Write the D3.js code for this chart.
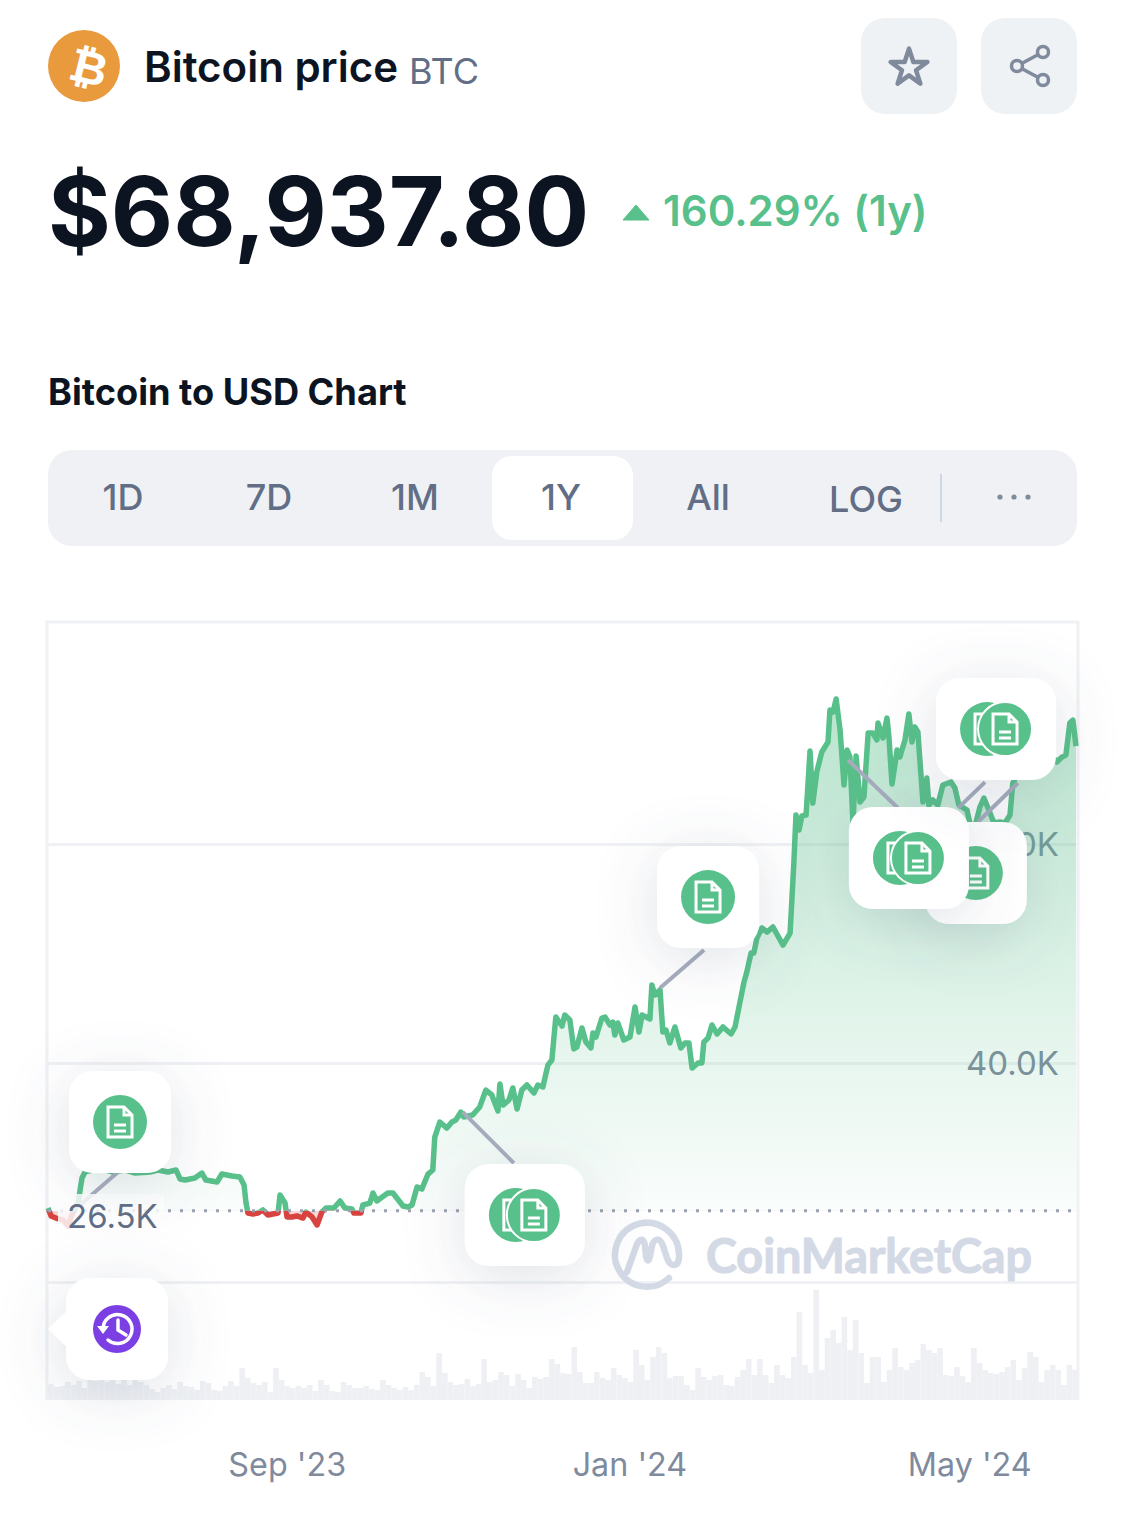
<!DOCTYPE html>
<html>
<head>
<meta charset="utf-8">
<style>
  html, body { margin: 0; padding: 0; background: #fff; }
  svg { display: block; }
  text { font-family: Inter, "Noto Sans", sans-serif; }
</style>
<script src="https://cdn.jsdelivr.net/npm/d3@7"></script>
</head>
<body>
<div id="container"></div>
<script>
//### DATA ###
//>>> Price line: days since 8 Jun 2023 and price in thousands of USD
const priceDays = [
  0, 1.1, 2.8, 5.3, 7.1, 8.5, 10.7, 12.1, 13.2, 15.7, 18.5, 22.8, 27.4, 31, 36.3, 39.2, 42.7, 45.6, 47, 48.8,
  52.3, 54.8, 56.2, 60.2, 61.9, 65.5, 68.3, 69.8, 70.5, 71.2, 73, 74.8, 76.5, 78.3, 81.9, 82.6, 84.4, 85.1, 86.9, 88.6,
  90.8, 91.8, 94, 95.8, 97.5, 99, 101.8, 104, 105.7, 108.2, 108.9, 111.4, 112.1, 114.6, 115.7, 117.1, 118.5, 121, 122.8, 126.4,
  128.2, 129.6, 131.4, 133.1, 135.3, 137, 137.7, 139.5, 142, 143.8, 145.2, 147, 148, 151.2, 153.7, 155.9, 158, 160.2, 160.9, 162,
  164.1, 165.5, 167, 168.7, 170.5, 173, 174.4, 176.2, 178, 179.4, 180.8, 183, 184, 185.8, 187.2, 188.3, 190.1, 191.5, 193.3, 194,
  195.1, 197.2, 198.3, 200.1, 201.1, 201.8, 202.9, 205, 207.2, 209, 210.4, 211.5, 214.3, 215, 216.1, 217.9, 218.9, 220, 221.4, 223.2,
  225.3, 226.8, 228.2, 229.3, 231.4, 232.8, 233.5, 235, 236.4, 238.2, 240.3, 243.2, 244.6, 246.3, 247.8, 248.8, 250.3, 251.3, 252.4, 254.2,
  256, 258.1, 261.7, 264.2, 265.6, 266.3, 267.4, 268.4, 269.9, 271.3, 272.3, 273.7, 275.5, 277.7, 278.4, 279.5, 280.6, 282, 283.4, 284.5,
  285.5, 286.6, 287.7, 289.1, 290.5, 292, 293.7, 295.1, 295.5, 297.3, 298.7, 299.4, 300.5, 302.3, 303.3, 305.1, 306.5, 307.6, 308.6, 309.7,
  311.5, 312.9, 313.6, 315, 316.8, 318.6, 321.5, 322.9, 324.3, 327.2, 328.2, 330, 331.8, 333.2, 335.4, 336.8, 338.9, 340.7, 342.5, 343.5,
  346, 350.3, 354.9, 359.2, 361, 362.4, 363.8, 364.9, 366
];
const priceValues = [
  26.76, 26.03, 25.84, 25.66, 25.11, 26.12, 27.21, 29.5, 30.05, 30.23, 30.41, 30.05, 30.23, 29.95, 30.05, 30.23, 30.05, 30.23, 29.41, 29.31,
  29.5, 29.95, 29.31, 29.13, 29.86, 29.68, 29.59, 28.86, 27.21, 26.3, 26.21, 26.3, 26.58, 26.12, 26.3, 27.94, 27.21, 25.94, 25.94, 26.03,
  25.84, 26.39, 25.94, 25.21, 26.39, 26.76, 26.76, 27.4, 26.76, 26.67, 26.3, 26.3, 27.03, 27.21, 28.13, 27.4, 27.67, 28.13, 28.13, 26.94,
  26.85, 27.03, 28.68, 28.49, 29.86, 30.23, 33.24, 34.61, 34.06, 34.61, 34.79, 35.52, 35.07, 35.25, 35.98, 37.53, 37.08, 35.62, 38.08, 36.16,
  36.62, 37.72, 35.8, 37.53, 37.99, 37.26, 37.99, 37.81, 39.82, 40.27, 44.2, 43.38, 44.38, 43.93, 41.28, 41.46, 43.2, 41.92, 41.37, 42.74,
  42.37, 44.11, 44.2, 43.47, 43.74, 42.56, 43.65, 42.1, 42.37, 45.11, 42.83, 44.38, 44.02, 47.12, 46.21, 46.67, 42.83, 43.01, 41.83, 43.29,
  41.37, 41.83, 41.83, 39.54, 40, 40, 41.92, 42.28, 43.47, 42.65, 43.29, 42.65, 43.29, 45.48, 47.4, 48.31, 50.04, 50.04, 51.41, 52.33,
  51.96, 52.42, 50.77, 51.87, 58.54, 62.65, 61.28, 62.56, 62.65, 68.49, 63.74, 66.57, 68.4, 69.31, 72.24, 72.05, 73.24, 70.41, 65.39, 68.58,
  67.94, 61.92, 68.03, 63.83, 64.29, 70.13, 70.13, 69.5, 71.05, 69.68, 71.5, 69.77, 65.48, 68.58, 67.94, 69.5, 71.87, 69.31, 70.68, 70.23,
  63.83, 66.02, 63.56, 64.02, 63.56, 65.39, 65.66, 65.11, 63.56, 63.1, 61.92, 61.55, 63.38, 64.2, 62.83, 61.92, 62.01, 61.92, 62.65, 65.57,
  66.76, 68.58, 68.76, 67.49, 67.94, 68.13, 71.05, 71.32, 68.94
];
//>>> Volume bars (two day buckets), billions of USD
const volumeValues = [
  16, 13, 14, 18, 15, 19, 12, 20, 19, 21, 18, 21, 16, 21, 15, 21, 18, 15, 11, 8,
  12, 15, 11, 18, 14, 13, 10, 19, 17, 10, 9, 14, 19, 14, 32, 22, 17, 15, 18, 8,
  32, 20, 14, 12, 14, 12, 15, 9, 20, 15, 9, 8, 18, 15, 12, 12, 14, 11, 10, 20,
  15, 12, 10, 13, 10, 15, 28, 23, 14, 47, 27, 18, 15, 16, 21, 14, 16, 41, 18, 20,
  28, 25, 14, 26, 20, 12, 23, 21, 23, 41, 36,
  27, 26, 53, 28, 17, 17, 28, 22, 20, 32, 25, 22, 18, 50, 35, 20, 43, 53, 47, 22,
  24, 24, 15, 10, 32, 23, 20, 24, 25, 15, 14, 23, 30, 41, 25, 41, 25, 17, 35, 25,
  22, 43, 88, 35, 27, 110, 30, 62, 70, 57, 83, 50, 80, 47, 17, 43, 43, 18, 30, 52,
  33, 30, 37, 40, 56, 50, 47, 52, 25, 24, 33, 24, 18, 52, 37, 30, 27, 26, 28, 33,
  40, 20, 32, 48, 43, 18, 30, 35, 30, 15, 35, 30
];
//>>> News markers on the line: day and price in thousands of USD
const markerDays = [ 11.4, 147.7, 217.9, 284.8, 324, 345.3 ];
const markerPrices = [ 27.03, 35.52, 46.84, 67.67, 63.28, 65.57 ];

//>>> Axis values and labels
const gridPrices = [ 20, 40, 60 ];
const hiddenGridLabels = [ 20 ];
const xTickDates = [ Date.UTC( 2023, 8, 1 ), Date.UTC( 2024, 0, 1 ), Date.UTC( 2024, 4, 1 ) ];
const baselinePrice = 26.5;
const tabLabels = [ '1D', '7D', '1M', '1Y', 'All', 'LOG' ];


//### LAYOUT AND STYLE ###
const width = 1125;
const height = 1516;
const dayMs = 86400000;
const startTime = Date.UTC( 2023, 5, 8 );

const green = '#58c08a';
const red = '#d9433f';
const ink = '#0d1421';
const slate = '#616e85';
const grey = '#808a9d';
const panel = '#eff2f5';
const gridColor = '#f0f1f4';

//>>> Card placement around each marker: card centre offset, connector end offset, one or two coins
const cardLayout = [
  { dx: 40, dy: -83, lx: 38, ly: -33, double: false },
  { dx: 62, dy: 103, lx: 51, ly: 51, double: true },
  { dx: 48, dy: -91, lx: 44, ly: -38, double: false },
  { dx: 61, dy: 98, lx: 50, ly: 48, double: true },
  { dx: 38, dy: -79, lx: 27, ly: -26, double: true },
  { dx: -42, dy: 90, lx: -40, ly: 39, double: false }
];
const cardOrder = [ 0, 1, 2, 5, 3, 4 ];


//_____ SVG _____
const svg = d3.select( '#container' )
  .append( 'svg' )
  .attr( 'width', width )
  .attr( 'height', height );

const defs = svg.append( 'defs' );

//>>> Soft card shadow
const shadow = defs.append( 'filter' )
  .attr( 'id', 'cardShadow' )
  .attr( 'x', '-100%' ).attr( 'y', '-100%' )
  .attr( 'width', '300%' ).attr( 'height', '300%' );
shadow.append( 'feDropShadow' )
  .attr( 'dx', 0 ).attr( 'dy', 10 )
  .attr( 'stdDeviation', 30 )
  .attr( 'flood-color', '#58667e' )
  .attr( 'flood-opacity', 0.2 );

//>>> Area fill gradient
const areaGradient = defs.append( 'linearGradient' )
  .attr( 'id', 'areaGreen' )
  .attr( 'gradientUnits', 'userSpaceOnUse' )
  .attr( 'x1', 0 ).attr( 'x2', 0 )
  .attr( 'y1', 700 ).attr( 'y2', 1210 );
areaGradient.append( 'stop' ).attr( 'offset', 0 ).attr( 'stop-color', green ).attr( 'stop-opacity', 0.42 );
areaGradient.append( 'stop' ).attr( 'offset', 1 ).attr( 'stop-color', green ).attr( 'stop-opacity', 0.03 );


//_____ SCALES _____
const x = d3.scaleUtc()
  .domain( [ startTime, startTime + 366 * dayMs ] )
  .range( [ 48, 1076 ] );

const y = d3.scaleLinear()
  .domain( [ 20, 80 ] )
  .range( [ 1282, 625 ] );

const volumeX = d3.scaleBand()
  .domain( d3.range( volumeValues.length ) )
  .range( [ 48, 1078 ] );

const volumeY = d3.scaleLinear()
  .domain( [ 0, 110 ] )
  .range( [ 1400, 1290 ] );

const dayToX = day => x( startTime + day * dayMs );
const baselineY = y( baselinePrice );
const pricePoints = priceDays.map( ( d, i ) => [ d, priceValues[ i ] ] );


//_____ HEADER _____
const header = svg.append( 'g' );

header.append( 'circle' )
  .attr( 'cx', 84 ).attr( 'cy', 66 ).attr( 'r', 36 )
  .attr( 'fill', '#e99a3c' );

header.append( 'text' )
  .attr( 'transform', 'translate(85,83) rotate(14)' )
  .attr( 'text-anchor', 'middle' )
  .style( 'font-family', '"DejaVu Sans", sans-serif' )
  .style( 'font-size', '46px' )
  .style( 'font-weight', 700 )
  .attr( 'fill', '#fff' )
  .text( '₿' );

header.append( 'text' )
  .attr( 'x', 144 ).attr( 'y', 82 )
  .style( 'font-size', '42px' )
  .style( 'font-weight', 600 )
  .attr( 'fill', ink )
  .text( 'Bitcoin price' );

header.append( 'text' )
  .attr( 'x', 409 ).attr( 'y', 84 )
  .style( 'font-size', '36px' )
  .attr( 'fill', slate )
  .text( 'BTC' );

//>>> Star and share buttons
[ 861, 981 ].forEach( left => {
  header.append( 'rect' )
    .attr( 'x', left ).attr( 'y', 18 )
    .attr( 'width', 96 ).attr( 'height', 96 )
    .attr( 'rx', 24 )
    .attr( 'fill', panel );
} );

header.append( 'path' )
  .attr( 'transform', 'translate(909,68)' )
  .attr( 'd', d3.symbol( d3.symbolStar ).size( 420 ) )
  .attr( 'fill', 'none' )
  .attr( 'stroke', grey )
  .attr( 'stroke-width', 4.5 )
  .attr( 'stroke-linejoin', 'round' );

header.append( 'path' )
  .attr( 'd', 'M1043 52 L1017 66 L1043 80' )
  .attr( 'fill', 'none' )
  .attr( 'stroke', grey )
  .attr( 'stroke-width', 3.5 );
[ [ 1043, 52 ], [ 1017, 66 ], [ 1043, 80 ] ].forEach( c => {
  header.append( 'circle' )
    .attr( 'cx', c[ 0 ] ).attr( 'cy', c[ 1 ] ).attr( 'r', 5.5 )
    .attr( 'fill', panel )
    .attr( 'stroke', grey )
    .attr( 'stroke-width', 3.5 );
} );

//>>> Price and change
header.append( 'text' )
  .attr( 'x', 48 ).attr( 'y', 246 )
  .style( 'font-size', '96px' )
  .style( 'font-weight', 700 )
  .attr( 'fill', ink )
  .text( '$68,937.80' );

header.append( 'path' )
  .attr( 'd', 'M636 205 L649 220 L623 220 Z' )
  .attr( 'fill', green )
  .attr( 'stroke', green )
  .attr( 'stroke-linejoin', 'round' );

header.append( 'text' )
  .attr( 'x', 663 ).attr( 'y', 226 )
  .style( 'font-size', '42px' )
  .style( 'font-weight', 600 )
  .attr( 'fill', green )
  .text( '160.29% (1y)' );

header.append( 'text' )
  .attr( 'x', 48 ).attr( 'y', 405 )
  .style( 'font-size', '36.2px' )
  .style( 'font-weight', 700 )
  .attr( 'fill', ink )
  .text( 'Bitcoin to USD Chart' );


//_____ TABS _____
const tabs = svg.append( 'g' );
const tabCentres = [ 123, 269, 415, 561, 708, 866 ];

tabs.append( 'rect' )
  .attr( 'x', 48 ).attr( 'y', 450 )
  .attr( 'width', 1029 ).attr( 'height', 96 )
  .attr( 'rx', 24 )
  .attr( 'fill', '#eff1f5' );

tabs.append( 'rect' )
  .attr( 'x', 492 ).attr( 'y', 456 )
  .attr( 'width', 141 ).attr( 'height', 84 )
  .attr( 'rx', 20 )
  .attr( 'fill', '#fff' );

tabs.selectAll( 'text' )
  .data( tabLabels )
  .enter()
  .append( 'text' )
  .attr( 'x', ( d, i ) => tabCentres[ i ] )
  .attr( 'y', d => d === 'LOG' ? 512 : 510 )
  .attr( 'text-anchor', 'middle' )
  .style( 'font-size', '36px' )
  .style( 'font-weight', 500 )
  .attr( 'fill', slate )
  .text( d => d );

tabs.append( 'line' )
  .attr( 'x1', 941 ).attr( 'x2', 941 )
  .attr( 'y1', 474 ).attr( 'y2', 522 )
  .attr( 'stroke', '#cfd6e4' )
  .attr( 'stroke-width', 2 );

[ 1000, 1014, 1028 ].forEach( cx => {
  tabs.append( 'circle' )
    .attr( 'cx', cx ).attr( 'cy', 497 ).attr( 'r', 2.6 )
    .attr( 'fill', grey );
} );


//_____ CHART FRAME AND GRID _____
const chart = svg.append( 'g' );

chart.append( 'path' )
  .attr( 'd', 'M47 1400 L47 622 L1078 622 L1078 1400' )
  .attr( 'fill', 'none' )
  .attr( 'stroke', gridColor )
  .attr( 'stroke-width', 3 );

//>>> Y axis: gridlines are the ticks
const yAxisGroup = chart.append( 'g' )
  .attr( 'transform', 'translate(1078,0)' )
  .call( d3.axisLeft( y )
    .tickValues( gridPrices )
    .tickSize( 1030 )
    .tickFormat( d => hiddenGridLabels.includes( d ) ? '' : d3.format( '.1f' )( d ) + 'K' ) );

yAxisGroup.select( '.domain' ).remove();
yAxisGroup.selectAll( 'line' )
  .attr( 'stroke', gridColor )
  .attr( 'stroke-width', 3 );
yAxisGroup.selectAll( 'text' )
  .attr( 'x', -19 )
  .attr( 'dy', '0.34em' )
  .attr( 'text-anchor', 'end' )
  .style( 'font-size', '33px' )
  .style( 'font-family', 'Inter, sans-serif' )
  .attr( 'fill', grey );

//>>> X axis: labels only
const xAxisGroup = chart.append( 'g' )
  .attr( 'transform', 'translate(0,1400)' )
  .call( d3.axisBottom( x )
    .tickValues( xTickDates )
    .tickSize( 0 )
    .tickPadding( 53 )
    .tickFormat( d3.utcFormat( "%b '%y" ) ) );

xAxisGroup.select( '.domain' ).remove();
xAxisGroup.selectAll( 'text' )
  .style( 'font-size', '32.3px' )
  .style( 'font-family', 'Inter, sans-serif' )
  .attr( 'fill', grey );


//_____ VOLUME _____
chart.append( 'g' )
  .selectAll( 'rect' )
  .data( volumeValues )
  .enter()
  .append( 'rect' )
  .attr( 'x', ( d, i ) => volumeX( i ) )
  .attr( 'y', d => volumeY( d ) )
  .attr( 'width', volumeX.bandwidth() )
  .attr( 'height', d => volumeY( 0 ) - volumeY( d ) )
  .attr( 'fill', '#eef0f4' );


//_____ WATERMARK _____
const mark = chart.append( 'g' )
  .attr( 'fill', 'none' )
  .attr( 'stroke', '#d4dae5' )
  .attr( 'stroke-width', 6.5 )
  .attr( 'stroke-linecap', 'round' )
  .attr( 'stroke-linejoin', 'round' );

mark.append( 'path' )
  .attr( 'd', 'M669 1278 A32 32 0 1 1 679 1254 C680 1268 670 1268 667 1258 L663 1246 C660 1237 654 1238 652 1246 L650 1256 C649 1262 647 1262 646 1256 L645 1246 C644 1238 640 1238 637 1244 L627 1272' );

chart.append( 'text' )
  .attr( 'x', 706 ).attr( 'y', 1273 )
  .attr( 'textLength', 326 )
  .attr( 'lengthAdjust', 'spacingAndGlyphs' )
  .style( 'font-family', 'Lato, sans-serif' )
  .style( 'font-size', '47px' )
  .style( 'font-weight', 700 )
  .attr( 'fill', '#d4dae5' )
  .attr( 'stroke', '#d4dae5' )
  .attr( 'stroke-width', 1.2 )
  .attr( 'stroke-linejoin', 'round' )
  .text( 'CoinMarketCap' );


//_____ PRICE AREA AND LINE _____
const areaShape = d3.area()
  .x( d => dayToX( d[ 0 ] ) )
  .y0( baselineY )
  .y1( d => y( d[ 1 ] ) );

const lineShape = d3.line()
  .x( d => dayToX( d[ 0 ] ) )
  .y( d => y( d[ 1 ] ) );

//>>> Clip above and below the baseline price so the line changes colour there
defs.append( 'clipPath' ).attr( 'id', 'aboveBase' )
  .append( 'rect' )
  .attr( 'x', 0 ).attr( 'y', 0 )
  .attr( 'width', width ).attr( 'height', baselineY );
defs.append( 'clipPath' ).attr( 'id', 'belowBase' )
  .append( 'rect' )
  .attr( 'x', 0 ).attr( 'y', baselineY )
  .attr( 'width', width ).attr( 'height', height - baselineY );

chart.append( 'path' )
  .attr( 'd', areaShape( pricePoints ) )
  .attr( 'clip-path', 'url(#aboveBase)' )
  .attr( 'fill', 'url(#areaGreen)' );

chart.append( 'path' )
  .attr( 'd', areaShape( pricePoints ) )
  .attr( 'clip-path', 'url(#belowBase)' )
  .attr( 'fill', red )
  .attr( 'fill-opacity', 0.22 );

[ [ green, 'aboveBase' ], [ red, 'belowBase' ] ].forEach( part => {
  chart.append( 'path' )
    .attr( 'd', lineShape( pricePoints ) )
    .attr( 'clip-path', `url(#${part[ 1 ]})` )
    .attr( 'fill', 'none' )
    .attr( 'stroke', part[ 0 ] )
    .attr( 'stroke-width', 5.5 )
    .attr( 'stroke-linejoin', 'round' );
} );

//>>> Dotted baseline
chart.append( 'line' )
  .attr( 'x1', 48 ).attr( 'x2', 1076 )
  .attr( 'y1', baselineY ).attr( 'y2', baselineY )
  .attr( 'stroke', '#9aa2b1' )
  .attr( 'stroke-width', 3 )
  .attr( 'stroke-dasharray', '3 9' );


//_____ NEWS CARDS _____
const markers = markerDays.map( ( d, i ) => ( {
  mx: dayToX( d ),
  my: y( markerPrices[ i ] ),
  ...cardLayout[ i ]
} ) );

chart.append( 'g' )
  .selectAll( 'line' )
  .data( markers )
  .enter()
  .append( 'line' )
  .attr( 'x1', d => d.mx )
  .attr( 'y1', d => d.my )
  .attr( 'x2', d => d.mx + d.lx )
  .attr( 'y2', d => d.my + d.ly )
  .attr( 'stroke', '#a6acbe' )
  .attr( 'stroke-width', 4 );

//>>> Pale backing of the baseline label
chart.append( 'rect' )
  .attr( 'x', 58 ).attr( 'y', 1194 )
  .attr( 'width', 106 ).attr( 'height', 42 )
  .attr( 'fill', '#fff' )
  .attr( 'fill-opacity', 0.84 );

chart.append( 'text' )
  .attr( 'x', 67 ).attr( 'y', 1228 )
  .style( 'font-size', '33px' )
  .attr( 'fill', slate )
  .text( baselinePrice.toFixed( 1 ) + 'K' );

function drawCoin ( g, cx, cy, ring ) {
  g.append( 'circle' )
    .attr( 'cx', cx ).attr( 'cy', cy ).attr( 'r', 27 )
    .attr( 'fill', green )
    .attr( 'stroke', ring ? '#fff' : 'none' )
    .attr( 'stroke-width', 2 );
  const doc = g.append( 'g' )
    .attr( 'transform', `translate(${cx},${cy})` )
    .attr( 'fill', 'none' )
    .attr( 'stroke', '#fff' )
    .attr( 'stroke-width', 3 );
  doc.append( 'path' ).attr( 'd', 'M-12 -15 L4 -15 L12 -7 L12 15 L-12 15 Z M4 -15 L4 -7 L12 -7' );
  doc.append( 'path' ).attr( 'd', 'M-6 3 L6 3 M-6 9 L6 9' );
}

cardOrder.forEach( i => {
  const d = markers[ i ];
  const cx = d.mx + d.dx;
  const cy = d.my + d.dy;
  const cardWidth = d.double ? 120 : 102;
  const g = chart.append( 'g' );
  g.append( 'rect' )
    .attr( 'x', cx - cardWidth / 2 ).attr( 'y', cy - 51 )
    .attr( 'width', cardWidth ).attr( 'height', 102 )
    .attr( 'rx', 24 )
    .attr( 'fill', '#fff' )
    .attr( 'filter', 'url(#cardShadow)' );
  if ( d.double ) {
    drawCoin( g, cx - 9, cy, false );
    drawCoin( g, cx + 9, cy, true );
  } else {
    drawCoin( g, cx, cy, false );
  }
} );


//_____ HISTORY CARD _____
const history = chart.append( 'g' );

history.append( 'path' )
  .attr( 'd', 'M90 1278 L144 1278 A24 24 0 0 1 168 1302 L168 1356 A24 24 0 0 1 144 1380 L90 1380 A24 24 0 0 1 66 1356 L66 1346 L48 1329 L66 1312 L66 1302 A24 24 0 0 1 90 1278 Z' )
  .attr( 'fill', '#fff' )
  .attr( 'filter', 'url(#cardShadow)' );

history.append( 'circle' )
  .attr( 'cx', 117 ).attr( 'cy', 1329 ).attr( 'r', 24 )
  .attr( 'fill', '#7b3fe4' );

history.append( 'path' )
  .attr( 'd', 'M103 1329 A14.5 14.5 0 1 1 108 1340 M118 1320 L118 1330 L126 1335' )
  .attr( 'fill', 'none' )
  .attr( 'stroke', '#fff' )
  .attr( 'stroke-width', 3.5 )
  .attr( 'stroke-linecap', 'round' );

history.append( 'path' )
  .attr( 'd', 'M97 1326 L109 1326 L103 1334 Z' )
  .attr( 'fill', '#fff' );
</script>
</body>
</html>
